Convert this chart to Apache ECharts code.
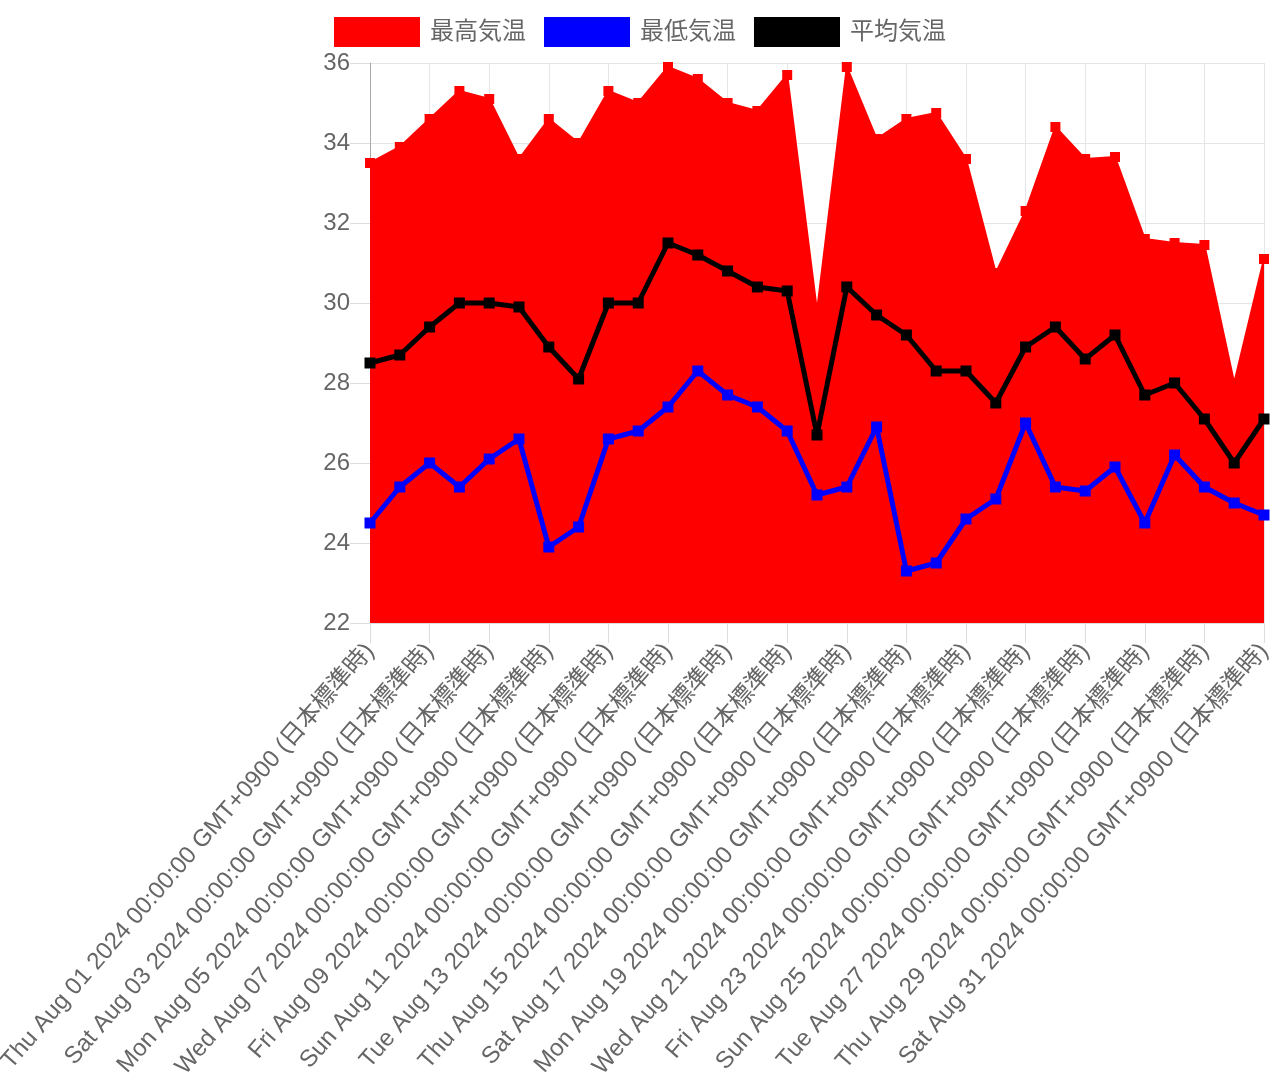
<!DOCTYPE html>
<html>
<head>
<meta charset="utf-8">
<script src="https://cdn.jsdelivr.net/npm/echarts@6/dist/echarts.min.js"></script>
<style>
html,body{margin:0;padding:0;background:#fff;}
#c{width:1280px;height:1080px;}
</style>
</head>
<body>
<div id="c"></div>
<script>
const categories = [
  "Thu Aug 01 2024 00:00:00 GMT+0900 (日本標準時)",
  "Fri Aug 02 2024 00:00:00 GMT+0900 (日本標準時)",
  "Sat Aug 03 2024 00:00:00 GMT+0900 (日本標準時)",
  "Sun Aug 04 2024 00:00:00 GMT+0900 (日本標準時)",
  "Mon Aug 05 2024 00:00:00 GMT+0900 (日本標準時)",
  "Tue Aug 06 2024 00:00:00 GMT+0900 (日本標準時)",
  "Wed Aug 07 2024 00:00:00 GMT+0900 (日本標準時)",
  "Thu Aug 08 2024 00:00:00 GMT+0900 (日本標準時)",
  "Fri Aug 09 2024 00:00:00 GMT+0900 (日本標準時)",
  "Sat Aug 10 2024 00:00:00 GMT+0900 (日本標準時)",
  "Sun Aug 11 2024 00:00:00 GMT+0900 (日本標準時)",
  "Mon Aug 12 2024 00:00:00 GMT+0900 (日本標準時)",
  "Tue Aug 13 2024 00:00:00 GMT+0900 (日本標準時)",
  "Wed Aug 14 2024 00:00:00 GMT+0900 (日本標準時)",
  "Thu Aug 15 2024 00:00:00 GMT+0900 (日本標準時)",
  "Fri Aug 16 2024 00:00:00 GMT+0900 (日本標準時)",
  "Sat Aug 17 2024 00:00:00 GMT+0900 (日本標準時)",
  "Sun Aug 18 2024 00:00:00 GMT+0900 (日本標準時)",
  "Mon Aug 19 2024 00:00:00 GMT+0900 (日本標準時)",
  "Tue Aug 20 2024 00:00:00 GMT+0900 (日本標準時)",
  "Wed Aug 21 2024 00:00:00 GMT+0900 (日本標準時)",
  "Thu Aug 22 2024 00:00:00 GMT+0900 (日本標準時)",
  "Fri Aug 23 2024 00:00:00 GMT+0900 (日本標準時)",
  "Sat Aug 24 2024 00:00:00 GMT+0900 (日本標準時)",
  "Sun Aug 25 2024 00:00:00 GMT+0900 (日本標準時)",
  "Mon Aug 26 2024 00:00:00 GMT+0900 (日本標準時)",
  "Tue Aug 27 2024 00:00:00 GMT+0900 (日本標準時)",
  "Wed Aug 28 2024 00:00:00 GMT+0900 (日本標準時)",
  "Thu Aug 29 2024 00:00:00 GMT+0900 (日本標準時)",
  "Fri Aug 30 2024 00:00:00 GMT+0900 (日本標準時)",
  "Sat Aug 31 2024 00:00:00 GMT+0900 (日本標準時)"
];
const seriesNames = ["最高気温", "最低気温", "平均気温"];
const maxTemp = [33.5, 33.9, 34.6, 35.3, 35.1, 33.6, 34.6, 34.0, 35.3, 35.0,
                 35.9, 35.6, 35.0, 34.8, 35.7, 29.8, 35.9, 34.1, 34.6, 34.75,
                 33.6, 30.75, 32.3, 34.4, 33.6, 33.65, 31.6, 31.5, 31.45, 28.0, 31.1];
const minTemp = [24.5, 25.4, 26.0, 25.4, 26.1, 26.6, 23.9, 24.4, 26.6, 26.8,
                 27.4, 28.3, 27.7, 27.4, 26.8, 25.2, 25.4, 26.9, 23.3, 23.5,
                 24.6, 25.1, 27.0, 25.4, 25.3, 25.9, 24.5, 26.2, 25.4, 25.0, 24.7];
const avgTemp = [28.5, 28.7, 29.4, 30.0, 30.0, 29.9, 28.9, 28.1, 30.0, 30.0,
                 31.5, 31.2, 30.8, 30.4, 30.3, 26.7, 30.4, 29.7, 29.2, 28.3,
                 28.3, 27.5, 28.9, 29.4, 28.6, 29.2, 27.7, 28.0, 27.1, 26.0, 27.1];
const yMin = 22, yMax = 36, yStep = 2;

const FONT = "'Liberation Sans', Arial, 'Noto Sans CJK JP', sans-serif";
const chart = echarts.init(document.getElementById('c'), null, {renderer: 'canvas'});
chart.setOption({
  animation: false,
  backgroundColor: '#fff',
  legend: {
    top: 12,
    left: 'center',
    itemWidth: 86,
    itemHeight: 30,
    itemGap: 18,
    icon: 'rect',
    textStyle: {fontSize: 24, color: '#666', fontFamily: FONT, padding: [0, 0, 0, 5]},
    data: seriesNames
  },
  grid: {left: 370, right: 16, top: 63, bottom: 457, containLabel: false, outerBoundsMode: 'none'},
  xAxis: {
    type: 'category',
    boundaryGap: false,
    data: categories,
    axisLine: {show: true, lineStyle: {color: '#ddd', width: 1}},
    axisTick: {show: true, interval: 1, length: 20, lineStyle: {color: '#ddd'}},
    axisLabel: {interval: 1, rotate: 49, fontSize: 24, color: '#666', fontFamily: FONT, margin: 24},
    splitLine: {show: true, interval: 1, lineStyle: {color: '#e5e5e5', width: 1}}
  },
  yAxis: {
    type: 'value',
    min: yMin, max: yMax, interval: yStep,
    axisLine: {show: true, lineStyle: {color: '#aaa', width: 1}},
    axisTick: {show: true, length: 20, lineStyle: {color: '#ddd'}},
    axisLabel: {fontSize: 24, color: '#666', fontFamily: FONT, margin: 20},
    splitLine: {show: true, lineStyle: {color: '#e5e5e5', width: 1}}
  },
  series: [
    {
      name: seriesNames[0], type: 'line', data: maxTemp,
      color: '#ff0000',
      symbol: 'rect', symbolSize: 10, showAllSymbol: true,
      lineStyle: {color: '#ff0000', width: 2},
      itemStyle: {color: '#ff0000'},
      areaStyle: {color: '#ff0000', opacity: 1, origin: 'start'},
      clip: false, z: 1
    },
    {
      name: seriesNames[1], type: 'line', data: minTemp,
      color: '#0000ff',
      symbol: 'rect', symbolSize: 11, showAllSymbol: true,
      lineStyle: {color: '#0000ff', width: 5},
      itemStyle: {color: '#0000ff'},
      clip: false, z: 3
    },
    {
      name: seriesNames[2], type: 'line', data: avgTemp,
      color: '#000000',
      symbol: 'rect', symbolSize: 11, showAllSymbol: true,
      lineStyle: {color: '#000000', width: 5},
      itemStyle: {color: '#000000'},
      clip: false, z: 2
    }
  ]
});
</script>
</body>
</html>
